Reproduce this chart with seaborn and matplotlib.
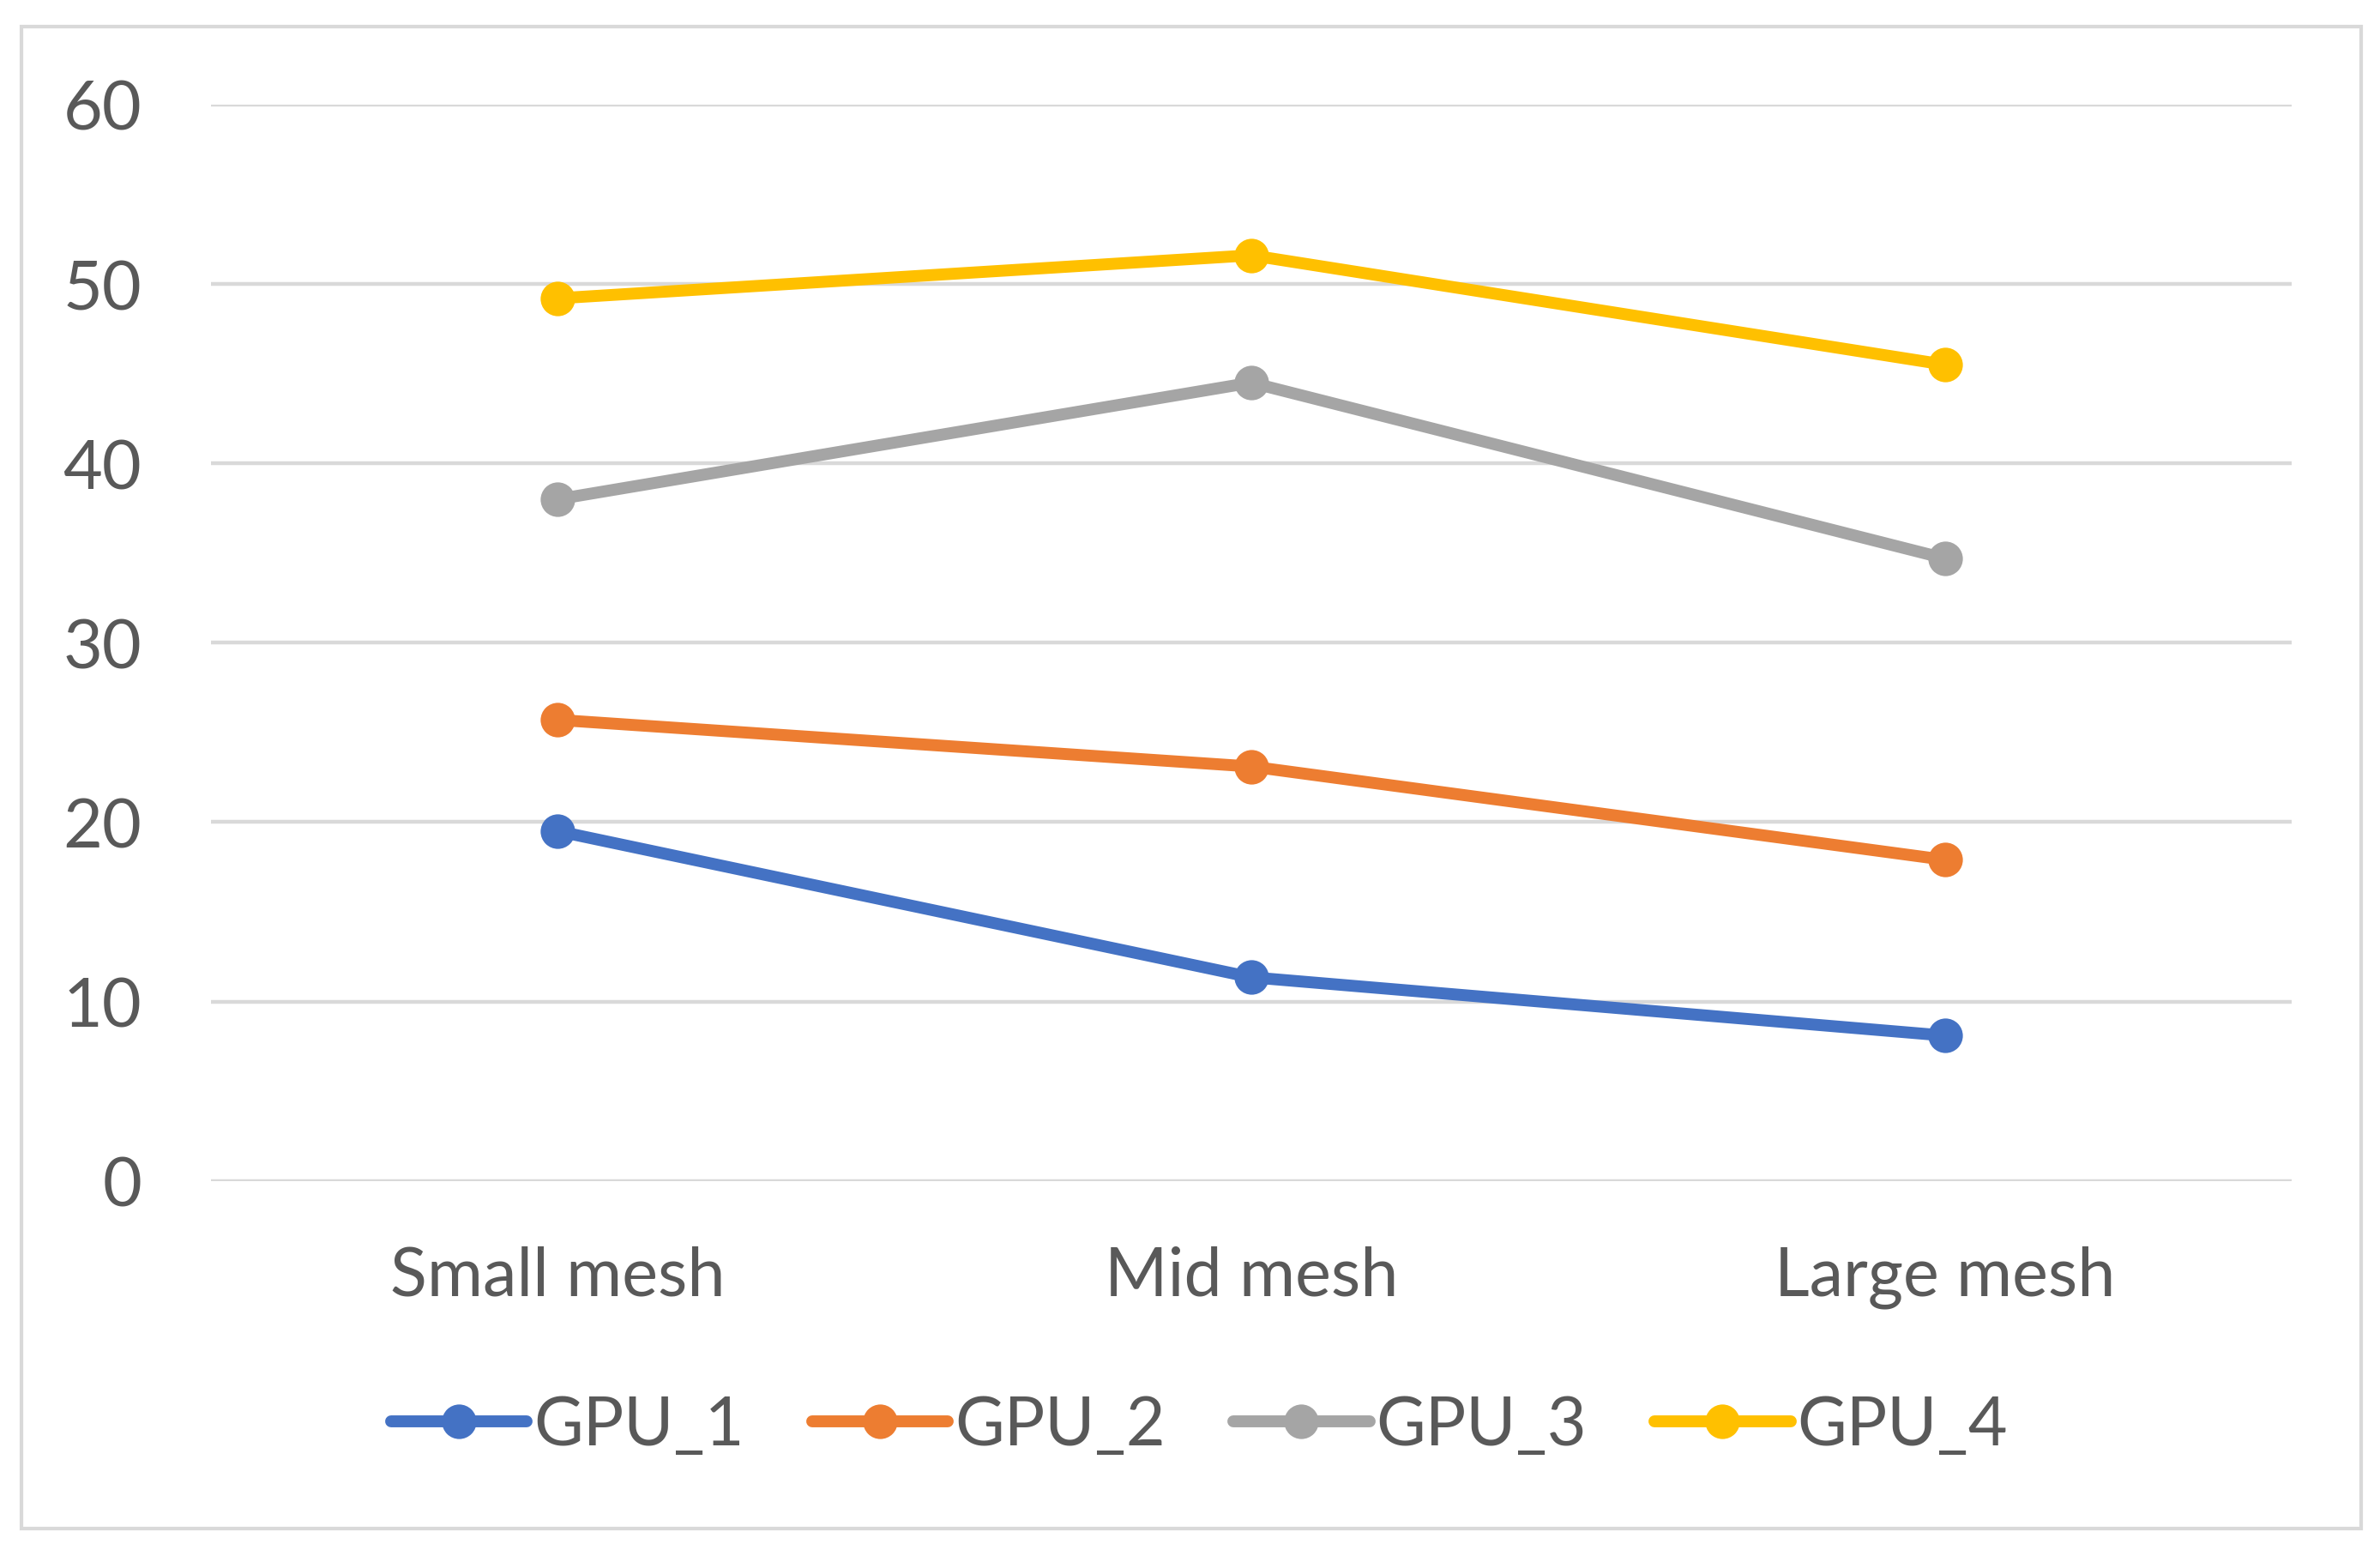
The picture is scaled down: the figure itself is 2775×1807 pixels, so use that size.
import matplotlib
matplotlib.use("Agg")
import matplotlib.pyplot as plt
import seaborn as sns
import pandas as pd
from matplotlib.patches import Rectangle

categories = ["Small mesh", "Mid mesh", "Large mesh"]
series_names = ["GPU_1", "GPU_2", "GPU_3", "GPU_4"]
gpu_1 = [19.5, 11.35, 8.1]
gpu_2 = [25.7, 23.1, 17.9]
gpu_3 = [38.0, 44.5, 34.7]
gpu_4 = [49.2, 51.6, 45.5]
y_ticks = [0, 10, 20, 30, 40, 50, 60]
colors = ["#4472C4", "#ED7D31", "#A5A5A5", "#FFC000"]

rows = []
for name, vals in zip(series_names, [gpu_1, gpu_2, gpu_3, gpu_4]):
    for c, v in zip(categories, vals):
        rows.append({"mesh": c, "value": v, "gpu": name})
df = pd.DataFrame(rows)

sns.set_theme(style="white")
plt.rcParams["font.family"] = ["Lato", "DejaVu Sans"]
text_color = "#595959"
fs = 57

fig = plt.figure(figsize=(27.75, 18.08), dpi=100)
ax = fig.add_axes([0.0885, 0.238, 0.8745, 0.694])

sns.lineplot(data=df, x="mesh", y="value", hue="gpu", palette=colors,
             hue_order=series_names, marker="o", markersize=29,
             markeredgewidth=0, linewidth=10, sort=False, ax=ax)

ax.set_xlim(-0.5, 2.5)
ax.set_ylim(0, 60)
ax.set_yticks(y_ticks)
ax.set_yticklabels([str(t) for t in y_ticks])
ax.grid(axis="y", color="#D9D9D9", linewidth=3.2)
ax.grid(axis="x", visible=False)
ax.set_axisbelow(True)
for s in ax.spines.values():
    s.set_visible(False)
ax.set_xlabel("")
ax.set_ylabel("")
ax.tick_params(axis="both", length=0, labelsize=fs, colors=text_color)
ax.tick_params(axis="y", pad=58)
ax.tick_params(axis="x", pad=54)

handles, labels = ax.get_legend_handles_labels()
ax.get_legend().remove()
fig.legend(handles, labels, loc="center", bbox_to_anchor=(0.504, 0.080),
           ncol=4, frameon=False, fontsize=fs, labelcolor=text_color,
           handlelength=2.0, handletextpad=0.1, columnspacing=1.0)

fig.patches.append(Rectangle((0.009, 0.0138), 0.983, 0.9685, transform=fig.transFigure,
                             fill=False, edgecolor="#D9D9D9", linewidth=3))

fig.savefig("out.png", dpi=100, facecolor="white")
